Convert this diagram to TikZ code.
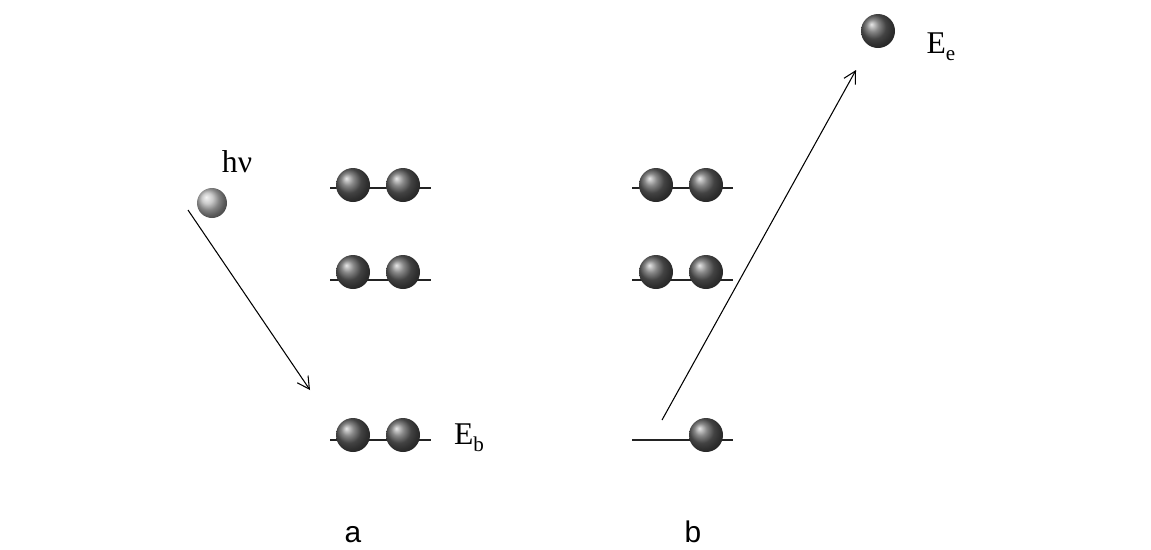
\documentclass[tikz,border=0pt]{standalone}
\usepackage{fontspec}
\setmainfont{Liberation Serif}
\newfontfamily\panelfont{Liberation Sans}
\usetikzlibrary{arrows.meta,positioning}
\definecolor{ballDark}{RGB}{95,95,95}
\definecolor{ballLight}{RGB}{185,185,185}
\definecolor{lineGray}{RGB}{35,35,35}
\newcommand{\shell}[3]{\coordinate (#1l) at (#2,#3); \coordinate (#1r) at (#2+101,#3); \draw[level] (#1l) -- (#1r);}
\newcommand{\lowsub}[1]{\raisebox{-0.5ex}{\fontsize{12}{13}\selectfont #1}}
\tikzset{
  electron/.style={circle,minimum size=0.68cm,inner sep=0pt,shading=ball,ball color=ballDark},
  photon/.style={circle,minimum size=0.6cm,inner sep=0pt,shading=ball,ball color=ballLight},
  level/.style={draw=lineGray,line width=0.9pt},
  transit/.style={draw=black,line width=0.6pt,-{Straight Barb[length=2.4mm,width=2.6mm]}},
  energy/.style={font=\fontsize{18}{21}\selectfont},
  panel/.style={font=\panelfont\fontsize{17}{20}\selectfont,anchor=base}
}
\begin{document}
\begin{tikzpicture}[x=0.02cm,y=-0.02cm]
\useasboundingbox (0,0) rectangle (1151,549);
% panel a
\shell{aT}{330}{188} \shell{aM}{330}{280} \shell{aB}{330}{440}
\node[electron] (a1) at (353,185) {}; \node[electron] (a2) at (403,185) {};
\node[electron] (a3) at (353,272) {}; \node[electron] (a4) at (403,272) {};
\node[electron] (a5) at (353,435) {}; \node[electron] (a6) at (403,435) {};
\node[photon] (hv) at (212,203) {};
\node[energy] (hvlab) at (237,162) {hν};
\coordinate (hvstart) at (188,210); \coordinate (hvend) at (310,390);
\draw[transit] (hvstart) -- (hvend);
\node[energy] (Eb) at (469,438) {E\lowsub{b}};
\node[panel] (pa) at (353,542) {a};
% panel b
\shell{bT}{632}{188} \shell{bM}{632}{280} \shell{bB}{632}{440}
\node[electron] (b1) at (656,185) {}; \node[electron] (b2) at (706,185) {};
\node[electron] (b3) at (656,272) {}; \node[electron] (b4) at (706,272) {};
\node[electron] (b6) at (706,435) {};
\node[electron] (eout) at (878,31) {};
\coordinate (estart) at (662,420); \coordinate (eend) at (856,70);
\draw[transit] (estart) -- (eend);
\node[energy] (Ee) at (941,47) {E\lowsub{e}};
\node[panel] (pb) at (693,542) {b};
\end{tikzpicture}
\end{document}
